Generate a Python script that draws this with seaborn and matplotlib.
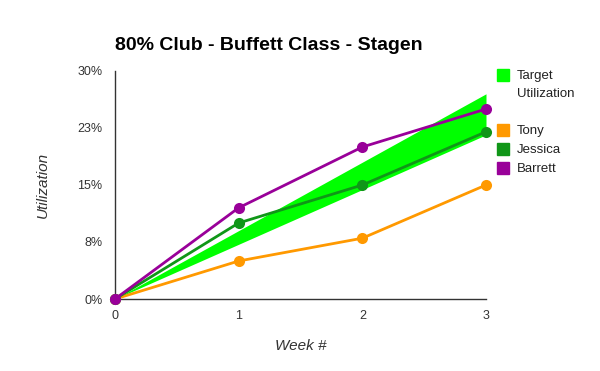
import matplotlib
import matplotlib.pyplot as plt
import seaborn as sns
import pandas as pd
from matplotlib.patches import Patch
from matplotlib.ticker import FuncFormatter

matplotlib.use('Agg')

# 数据
weeks = [0, 1, 2, 3]
tony = [0, 5, 8, 15]
jessica = [0, 10, 15, 22]
barrett = [0, 12, 20, 25]
target_low = [0, 7.2, 14.4, 21.6]
target_high = [0, 9, 18, 27]
y_ticks = [0, 7.5, 15, 22.5, 30]

names = ["Tony", "Jessica", "Barrett"]
colors = {"Tony": "#FF9900", "Jessica": "#109618", "Barrett": "#990099"}
band_color = "#00FF00"

sns.set_style("white")
plt.rcParams['font.family'] = ['Liberation Sans', 'DejaVu Sans']

df = pd.DataFrame({"week": weeks, "Tony": tony, "Jessica": jessica, "Barrett": barrett})
df = df.melt(id_vars="week", var_name="person", value_name="util")

fig = plt.figure(figsize=(6, 3.71), dpi=100)
ax = fig.add_axes([115 / 600, 1 - 299 / 371, (486 - 115) / 600, (299 - 71) / 371])

ax.fill_between(weeks, target_low, target_high, color=band_color, linewidth=0, zorder=1)

sns.lineplot(data=df, x="week", y="util", hue="person", hue_order=names,
             palette=colors, marker="o", markersize=8, markeredgewidth=0,
             linewidth=2, legend=False, ax=ax, zorder=3)

ax.set_xlim(0, 3)
ax.set_ylim(0, 30)
ax.set_xticks(weeks)
ax.set_yticks(y_ticks)
ax.yaxis.set_major_formatter(FuncFormatter(lambda v, p: f"{int(v + 0.5)}%"))
ax.tick_params(axis="x", length=0, labelsize=9, pad=8)
ax.tick_params(axis="y", length=0, labelsize=9, pad=9)
for lab in ax.get_xticklabels() + ax.get_yticklabels():
    lab.set_color("#333333")

sns.despine(ax=ax)
for s in ("left", "bottom"):
    ax.spines[s].set_color("#333333")
    ax.spines[s].set_linewidth(1)
    ax.spines[s].set_clip_on(False)
for line in ax.lines:
    line.set_clip_on(False)

ax.set_xlabel("Week #", fontsize=11, style="italic", color="#333333", labelpad=12)
ax.set_ylabel("Utilization", fontsize=11, style="italic", color="#333333", labelpad=20)

fig.text(115 / 600, 1 - 46 / 371, "80% Club - Buffett Class - Stagen",
         fontsize=14, fontweight="bold", va="center", ha="left", color="black")

leg1 = fig.legend(handles=[Patch(color=band_color), Patch(color="none")],
                  labels=["Target", "Utilization"],
                  loc="upper left", bbox_to_anchor=(497 / 600, 1 - 69 / 371),
                  frameon=False, fontsize=9.5, handlelength=0.9, handleheight=1.0,
                  handletextpad=0.6, labelspacing=0.3, borderpad=0, borderaxespad=0)
leg2 = fig.legend(handles=[Patch(color=colors[n]) for n in names], labels=names,
                  loc="upper left", bbox_to_anchor=(497 / 600, 1 - 124 / 371),
                  frameon=False, fontsize=9.5, handlelength=0.9, handleheight=1.0,
                  handletextpad=0.6, labelspacing=0.42, borderpad=0, borderaxespad=0)
for leg in (leg1, leg2):
    for t in leg.get_texts():
        t.set_color("#222222")

fig.savefig("out.png", dpi=100)
